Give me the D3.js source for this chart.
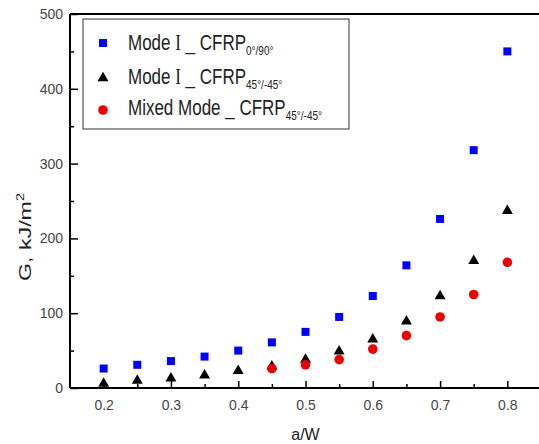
<!DOCTYPE html>
<html><head><meta charset="utf-8">
<script src="https://cdn.jsdelivr.net/npm/d3@7"></script>
<style>body{margin:0;background:#fff}svg{display:block}text{font-family:"Liberation Sans",Arial,sans-serif}</style>
</head><body>
<svg id="c" width="539" height="444"></svg>
<script>
const aW = [0.2,0.25,0.3,0.35,0.4,0.45,0.5,0.55,0.6,0.65,0.7,0.75,0.8];
const modeI_090 = [26,31,36,42,50,61,75,95,123,164,226,318,450];
const modeI_45 = [6,10,13,17,23,29,38,49,65,89,123,170,237];
const mixedA = [0.45,0.5,0.55,0.6,0.65,0.7,0.75,0.8];
const mixed_45 = [26,31,38,52,70,95,125,168];
const xTicks = [0.2,0.3,0.4,0.5,0.6,0.7,0.8];
const yTicks = [0,100,200,300,400,500];

const svg = d3.select("#c");
const L=70, R=541, T=14, B=388;
const x = d3.scaleLinear().domain([0.15,0.85]).range([L,R]);
const y = d3.scaleLinear().domain([0,500]).range([B,T]);

svg.append("line").attr("x1",L).attr("x2",R).attr("y1",T).attr("y2",T).attr("stroke","#000").attr("stroke-width",2);

const xa = svg.append("g").attr("transform",`translate(0,${B})`)
  .call(d3.axisBottom(x).tickValues(xTicks).tickSize(-7).tickPadding(12).tickFormat(d3.format(".1f")));
const xm = svg.append("g").attr("transform",`translate(0,${B})`)
  .call(d3.axisBottom(x).tickValues(d3.range(0.25,0.85,0.1)).tickSize(-4).tickFormat(""));
const ya = svg.append("g").attr("transform",`translate(${L},0)`)
  .call(d3.axisLeft(y).tickValues(yTicks).tickSize(-8).tickPadding(7));
const ym = svg.append("g").attr("transform",`translate(${L},0)`)
  .call(d3.axisLeft(y).tickValues(d3.range(50,500,100)).tickSize(-4).tickFormat(""));
[xa,xm,ya,ym].forEach(g=>{
  g.select(".domain").attr("stroke","#000").attr("stroke-width",2);
  g.selectAll(".tick line").attr("stroke","#000").attr("stroke-width",1.5);
  g.selectAll(".tick text").attr("fill","#444").style("font-size","14px").style("font-family","'Liberation Sans',Arial,sans-serif");
});
xa.select(".domain").attr("d",`M${L},0H${R}`);
ya.select(".domain").attr("d",`M0,${B}V${T}`);
xm.select(".domain").remove(); ym.select(".domain").remove();

svg.append("text").attr("x",(L+R)/2).attr("y",440).attr("text-anchor","middle").attr("fill","#222").style("font-size","16px").text("a/W");
const yt = svg.append("text").attr("transform","translate(31,237) rotate(-90) scale(1.45,1)").attr("text-anchor","middle").attr("fill","#222").style("font-size","16px");
yt.append("tspan").text("G, kJ/m");
yt.append("tspan").attr("dy",-7).style("font-size","10px").text("2");

svg.append("g").selectAll("rect").data(aW.map((a,i)=>[a,modeI_090[i]])).join("rect")
  .attr("x",d=>x(d[0])-4).attr("y",d=>y(d[1])-4).attr("width",8).attr("height",8).attr("fill","#0000ff");
const tri = d3.symbol().type(d3.symbolTriangle).size(52);
svg.append("g").selectAll("path").data(aW.map((a,i)=>[a,modeI_45[i]])).join("path")
  .attr("d",tri).attr("transform",d=>`translate(${x(d[0])},${y(d[1])})`).attr("fill","#000");
svg.append("g").selectAll("circle").data(mixedA.map((a,i)=>[a,mixed_45[i]])).join("circle")
  .attr("cx",d=>x(d[0])).attr("cy",d=>y(d[1])).attr("r",4.8).attr("fill","#ee0000");

const lg = svg.append("g");
lg.append("rect").attr("x",83).attr("y",19).attr("width",266).attr("height",110).attr("fill","#fff").attr("stroke","#333").attr("stroke-width",1);
const items = [
  {m:"sq", main:"Mode ", roman:true, rest:" _ CFRP", sub:"0°/90°", yy:43, base:50},
  {m:"tri", main:"Mode ", roman:true, rest:" _ CFRP", sub:"45°/-45°", yy:78, base:84},
  {m:"ci", main:"Mixed Mode _ CFRP", roman:false, rest:"", sub:"45°/-45°", yy:110, base:115}
];
items.forEach(it=>{
  if(it.m==="sq") lg.append("rect").attr("x",103-4).attr("y",it.yy-4).attr("width",8).attr("height",8).attr("fill","#0000ff");
  if(it.m==="tri") lg.append("path").attr("d",tri).attr("transform",`translate(103,${it.yy})`).attr("fill","#000");
  if(it.m==="ci") lg.append("circle").attr("cx",103).attr("cy",it.yy).attr("r",4.8).attr("fill","#ee0000");
  const t = lg.append("text").attr("transform",`translate(128,${it.base}) scale(1,1.3)`).attr("fill","#222").style("font-size","17px");
  t.append("tspan").text(it.main);
  if(it.roman){ t.append("tspan").style("font-family","'Liberation Serif',serif").text("I"); }
  if(it.rest) t.append("tspan").text(it.rest);
  t.append("tspan").attr("dy",4).style("font-size","10px").text(it.sub);
});
</script>
</body></html>
